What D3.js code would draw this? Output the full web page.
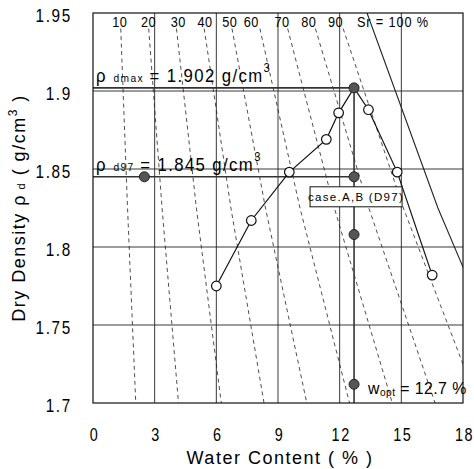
<!DOCTYPE html>
<html><head><meta charset="utf-8">
<script src="https://cdn.jsdelivr.net/npm/d3@7"></script>
<style>
html,body{margin:0;padding:0;background:#fff;}
svg{display:block;font-family:"Liberation Sans",Arial,sans-serif;}
</style></head>
<body>
<svg id="c" width="474" height="469"></svg>
<script>
// ---- data ----
const xTicks = [0, 3, 6, 9, 12, 15, 18];
const yTicks = [1.7, 1.75, 1.8, 1.85, 1.9, 1.95];
const yTickLabels = ["1.7", "1.75", "1.8", "1.85", "1.9", "1.95"];

// compaction curve (open points + peak)
const curveW   = [6.0, 7.7, 9.55, 11.35, 11.95, 12.7, 13.4, 14.8, 16.5];
const curveRho = [1.775, 1.817, 1.848, 1.869, 1.886, 1.902, 1.888, 1.848, 1.782];
const openW    = [6.0, 7.7, 9.55, 11.35, 11.95, 13.4, 14.8, 16.5];
const openRho  = [1.775, 1.817, 1.848, 1.869, 1.886, 1.888, 1.848, 1.782];
// filled points
const filledW   = [12.7, 2.5, 12.7, 12.7, 12.7];
const filledRho = [1.902, 1.845, 1.845, 1.808, 1.712];

// degree of saturation lines
const satSr     = [10, 20, 30, 40, 50, 60, 70, 80, 90, 100];
const satTopRho = [1.94, 1.94, 1.94, 1.94, 1.94, 1.94, 1.94, 1.94, 1.94, 1.95];
const satTopW   = [1.35, 2.71, 4.06, 5.41, 6.76, 8.12, 9.47, 10.82, 12.17, 13.33];
const satMidW   = [1.68, 3.36, 5.03, 6.71, 8.39, 10.07, 11.74, 13.42, 15.10, 16.78];
const satBotW   = [2.08, 4.16, 6.24, 8.32, 10.40, 12.48, 14.56, 16.64, 18.72, 20.80];
const satLabelW = [1.3, 2.7, 4.15, 5.45, 6.65, 7.7, 9.2, 10.5, 11.8];
const satLabels = ["10", "20", "30", "40", "50", "60", "70", "80", "90"];

const rhoDmax = 1.902, rhoD97 = 1.845, wOpt = 12.7;

// ---- drawing ----
const svg = d3.select("#c");
const x = d3.scaleLinear().domain([0, 18]).range([93, 463]);
const y = d3.scaleLinear().domain([1.7, 1.95]).range([403, 13]);

// text squeezed horizontally (narrow typeface look)
function sq(px, py, sx) {
  return svg.append("g").attr("transform", `translate(${px},${py}) scale(${sx},1)`).append("text");
}

svg.append("clipPath").attr("id", "clip").append("rect")
  .attr("x", x(0)).attr("y", y(1.95)).attr("width", x(18) - x(0)).attr("height", y(1.7) - y(1.95));

const plot = svg.append("g").attr("clip-path", "url(#clip)");

// grid
plot.selectAll(".vg").data(xTicks.slice(1, -1)).join("line")
  .attr("x1", d => x(d)).attr("x2", d => x(d)).attr("y1", y(1.95)).attr("y2", y(1.7))
  .attr("stroke", "#222").attr("stroke-width", 0.9);
plot.selectAll(".hg").data(yTicks.slice(1, -1)).join("line")
  .attr("y1", d => y(d)).attr("y2", d => y(d)).attr("x1", x(0)).attr("x2", x(18))
  .attr("stroke", "#222").attr("stroke-width", 0.9);

// saturation lines
const satLine = d3.line().x(d => x(d[0])).y(d => y(d[1]));
satSr.forEach((s, i) => {
  const pts = [[satTopW[i], satTopRho[i]], [satMidW[i], 1.825], [satBotW[i], 1.7]];
  plot.append("path").attr("d", satLine(pts)).attr("fill", "none")
    .attr("stroke", "#222")
    .attr("stroke-width", s === 100 ? 1.1 : 0.8)
    .attr("stroke-dasharray", s === 100 ? null : "4,3.5");
});

// reference lines
plot.append("line").attr("x1", x(0)).attr("x2", x(wOpt)).attr("y1", y(rhoDmax)).attr("y2", y(rhoDmax))
  .attr("stroke", "#333").attr("stroke-width", 1.6);
plot.append("line").attr("x1", x(0)).attr("x2", x(wOpt)).attr("y1", y(rhoD97)).attr("y2", y(rhoD97))
  .attr("stroke", "#333").attr("stroke-width", 1.6);
plot.append("line").attr("x1", x(wOpt)).attr("x2", x(wOpt)).attr("y1", y(rhoDmax)).attr("y2", y(1.7))
  .attr("stroke", "#333").attr("stroke-width", 1.6);

// compaction curve
plot.append("path").attr("d", d3.line().x((d, i) => x(curveW[i])).y((d, i) => y(curveRho[i]))(curveW))
  .attr("fill", "none").attr("stroke", "#111").attr("stroke-width", 1.2);

plot.selectAll(".op").data(openW).join("circle")
  .attr("cx", d => x(d)).attr("cy", (d, i) => y(openRho[i])).attr("r", 4.8)
  .attr("fill", "#fff").attr("stroke", "#111").attr("stroke-width", 1.2);
plot.selectAll(".fp").data(filledW).join("circle")
  .attr("cx", d => x(d)).attr("cy", (d, i) => y(filledRho[i])).attr("r", 5)
  .attr("fill", "#555").attr("stroke", "#222").attr("stroke-width", 1);

// border
svg.append("rect").attr("x", x(0)).attr("y", y(1.95)).attr("width", x(18) - x(0)).attr("height", y(1.7) - y(1.95))
  .attr("fill", "none").attr("stroke", "#111").attr("stroke-width", 1.2);

// saturation labels
satLabels.forEach((d, i) => {
  sq(x(satLabelW[i]), 27, 0.85).attr("text-anchor", "middle")
    .attr("font-size", 15).attr("letter-spacing", 0.5).text(d);
});
sq(x(satTopW[9]) - 10, 27, 0.85).attr("font-size", 15).attr("letter-spacing", 1).text("Sr = 100 %");

// axis tick labels
xTicks.forEach(d => {
  sq(x(d) + 1.5, 441, 0.8).attr("text-anchor", "middle")
    .attr("font-size", 18).attr("letter-spacing", 2).text(d);
});
yTicks.forEach((d, i) => {
  sq(72, y(d) + 9, 0.85).attr("text-anchor", "end")
    .attr("font-size", 18).attr("letter-spacing", 2).text(yTickLabels[i]);
});

// axis titles
svg.append("text").attr("x", 280).attr("y", 464).attr("text-anchor", "middle")
  .attr("font-size", 18).attr("letter-spacing", 1.5).text("Water Content ( % )");
const yt = svg.append("text").attr("transform", "translate(25,208) rotate(-90)")
  .attr("text-anchor", "middle").attr("font-size", 18).attr("letter-spacing", 1.5);
yt.append("tspan").text("Dry Density ρ");
yt.append("tspan").attr("font-size", 11).text(" d");
yt.append("tspan").text(" ( g/cm");
yt.append("tspan").attr("font-size", 12).attr("dy", -8).text("3");
yt.append("tspan").attr("dy", 8).text(" )");

// annotations
function rhoLabel(sub, val, rho) {
  const t = sq(x(0) + 3, y(rho) - 6, 0.93).attr("font-size", 18).attr("letter-spacing", 1.5);
  t.append("tspan").text("ρ");
  t.append("tspan").attr("font-size", 11).attr("dx", 7).text(sub);
  t.append("tspan").attr("dx", 6).text("= " + val + " g/cm");
  t.append("tspan").attr("font-size", 12).attr("dy", -10).text("3");
}
rhoLabel("dmax", "1.902", rhoDmax);
rhoLabel("d97", "1.845", rhoD97);

const wt = sq(x(wOpt) + 14, y(1.712) + 10, 0.93).attr("font-size", 17).attr("letter-spacing", 0.5);
wt.append("tspan").text("w");
wt.append("tspan").attr("font-size", 11).attr("dy", 2).text("opt");
wt.append("tspan").attr("dy", -2).attr("dx", 5).text("= " + wOpt + " %");

// case box
const bx = x(wOpt) - 44, by = y(rhoD97) + 10;
svg.append("rect").attr("x", bx).attr("y", by).attr("width", 92).attr("height", 20)
  .attr("fill", "#fff").attr("stroke", "#111").attr("stroke-width", 1);
svg.append("text").attr("x", bx + 46).attr("y", by + 14.5).attr("text-anchor", "middle")
  .attr("font-size", 11.5).attr("letter-spacing", 1.3).text("case.A,B (D97)");
</script>
</body></html>
